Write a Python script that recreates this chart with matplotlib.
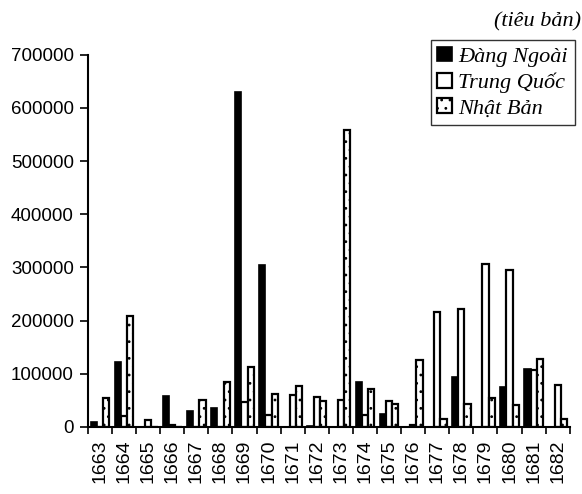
import matplotlib
matplotlib.use('Agg')
import matplotlib.pyplot as plt
import numpy as np

years = ['1663', '1664', '1665', '1666', '1667', '1668', '1669', '1670', '1671', '1672',
         '1673', '1674', '1675', '1676', '1677', '1678', '1679', '1680', '1681', '1682']
dang_ngoai = [10000, 122000, 0, 58000, 30000, 36000, 630000, 305000, 0, 1500,
              0, 85000, 24000, 0, 0, 93000, 0, 74000, 108000, 0]
trung_quoc = [0, 20000, 13000, 3000, 0, 0, 47000, 22000, 59000, 57000,
              50000, 23000, 49000, 4000, 217000, 222000, 307000, 295000, 106000, 78000]
nhat_ban = [55000, 209000, 0, 0, 51000, 85000, 113000, 62000, 76000, 48000,
            558000, 71000, 43500, 125000, 15000, 43000, 55000, 41000, 128000, 14500]
y_ticks = [0, 100000, 200000, 300000, 400000, 500000, 600000, 700000]

fig = plt.figure(figsize=(5.82, 4.94), dpi=100)
ax = fig.add_axes([0.151, 0.136, 0.828, 0.753])

x = np.arange(len(years))
width = 0.26

plt.rcParams['hatch.linewidth'] = 0.8
ax.bar(x - width, dang_ngoai, width, color='black', edgecolor='black',
       linewidth=1.2, label='Đàng Ngoài')
ax.bar(x, trung_quoc, width, color='white', edgecolor='black',
       linewidth=1.6, label='Trung Quốc')
ax.bar(x + width, nhat_ban, width, color='white', edgecolor='black',
       linewidth=1.6, hatch='..', label='Nhật Bản')

ax.set_xlim(-0.5, len(years) - 0.5)
ax.set_ylim(0, 700000)
ax.set_yticks(y_ticks)
ax.set_yticklabels([str(v) for v in y_ticks], fontfamily='Liberation Sans', fontsize=13.5)

ax.set_xticks(x)
ax.set_xticklabels(years, rotation=90, fontfamily='Liberation Sans', fontsize=14)
ax.set_xticks(np.arange(len(years) + 1) - 0.5, minor=True)
ax.tick_params(axis='x', which='major', length=0, pad=9)
ax.tick_params(axis='x', which='minor', length=5, width=1.2, direction='out')
ax.tick_params(axis='y', length=6, width=1.2, direction='out', pad=4)

for side in ['top', 'right']:
    ax.spines[side].set_visible(False)
for side in ['left', 'bottom']:
    ax.spines[side].set_linewidth(1.5)

leg = ax.legend(loc='upper right', bbox_to_anchor=(1.01, 1.04), borderaxespad=0,
                frameon=True, fancybox=False, edgecolor='black',
                prop={'family': 'Liberation Serif', 'style': 'italic', 'size': 16},
                handlelength=0.65, handleheight=0.65, handletextpad=0.3,
                labelspacing=0.25, borderpad=0.3)
leg.get_frame().set_linewidth(1.0)

fig.text(0.998, 0.955, '(tiêu bản)', ha='right', va='center',
         family='Liberation Serif', style='italic', fontsize=16)

fig.savefig('out.png', dpi=100)
